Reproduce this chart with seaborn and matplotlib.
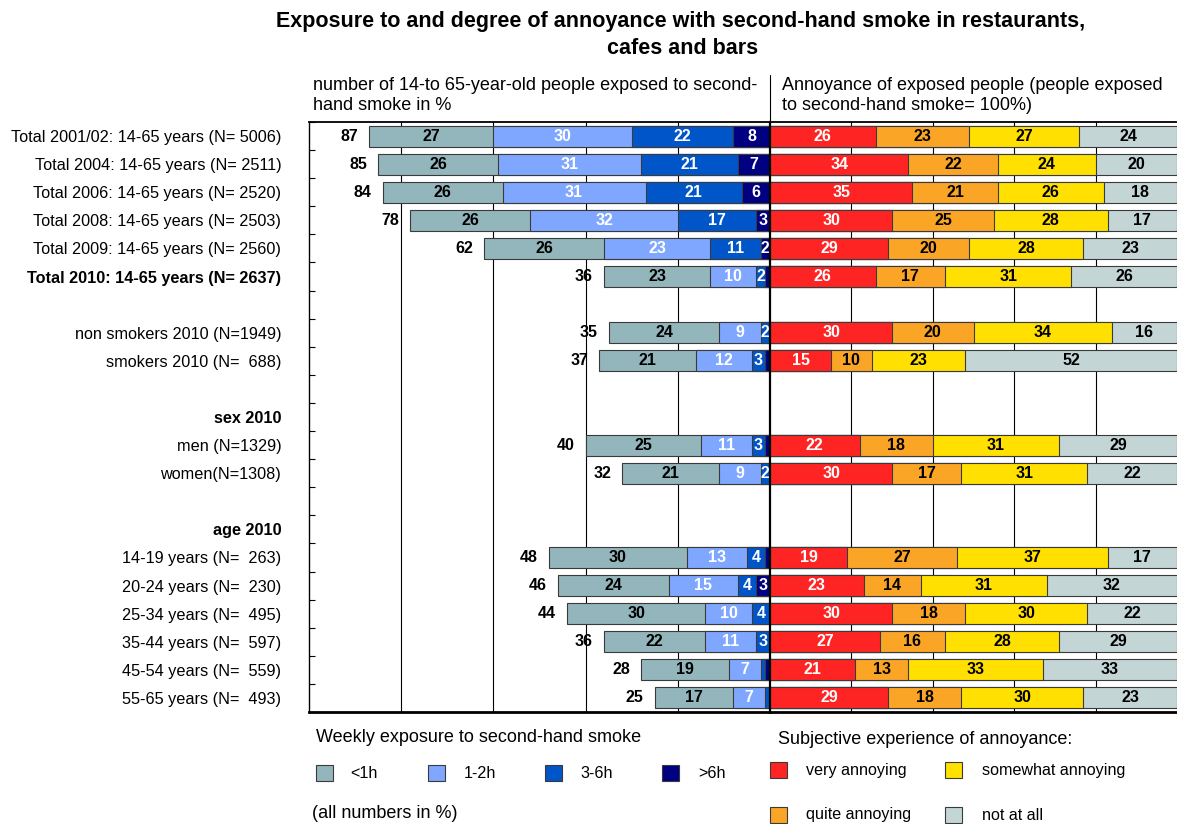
import numpy as np
import pandas as pd
import matplotlib.pyplot as plt
import seaborn as sns
from matplotlib.lines import Line2D
from matplotlib.patches import Rectangle

# row labels (groups with data)
groups = ["Total 2001/02: 14-65 years (N= 5006)",
          "Total 2004: 14-65 years (N= 2511)",
          "Total 2006: 14-65 years (N= 2520)",
          "Total 2008: 14-65 years (N= 2503)",
          "Total 2009: 14-65 years (N= 2560)",
          "Total 2010: 14-65 years (N= 2637)",
          "non smokers 2010 (N=1949)",
          "smokers 2010 (N=  688)",
          "men (N=1329)",
          "women(N=1308)",
          "14-19 years (N=  263)",
          "20-24 years (N=  230)",
          "25-34 years (N=  495)",
          "35-44 years (N=  597)",
          "45-54 years (N=  559)",
          "55-65 years (N=  493)"]

# exposure (% of 14-65 year olds), split by weekly hours
exposed = [87, 85, 84, 78, 62, 36, 35, 37, 40, 32, 48, 46, 44, 36, 28, 25]
under_1h = [27, 26, 26, 26, 26, 23, 24, 21, 25, 21, 30, 24, 30, 22, 19, 17]
h1_2 = [30, 31, 31, 32, 23, 10, 9, 12, 11, 9, 13, 15, 10, 11, 7, 7]
h3_6 = [22, 21, 21, 17, 11, 2, 2, 3, 3, 2, 4, 4, 4, 3, 1, 1]
over_6h = [8, 7, 6, 3, 2, 1, 0, 1, 1, 0, 1, 3, 0, 0, 1, 0]

# annoyance of exposed people (= 100%)
very = [26, 34, 35, 30, 29, 26, 30, 15, 22, 30, 19, 23, 30, 27, 21, 29]
quite = [23, 22, 21, 25, 20, 17, 20, 10, 18, 17, 27, 14, 18, 16, 13, 18]
somewhat = [27, 24, 26, 28, 28, 31, 34, 23, 31, 31, 37, 31, 30, 28, 33, 30]
not_at_all = [24, 20, 18, 17, 23, 26, 16, 52, 29, 22, 17, 32, 22, 29, 33, 23]

order = groups[:6] + [" "] + groups[6:8] + ["  ", "sex 2010"] + groups[8:10] + ["   ", "age 2010"] + groups[10:]
bold_rows = ["Total 2010: 14-65 years (N= 2637)", "sex 2010", "age 2010"]

exp_names = ["<1h", "1-2h", "3-6h", ">6h"]
exp_colors = ["#93B5BC", "#7FA7FF", "#0055C8", "#000080"]
exp_text = ["black", "white", "white", "white"]
ann_names = ["very annoying", "quite annoying", "somewhat annoying", "not at all"]
ann_colors = ["#FF2424", "#FAA526", "#FFE000", "#C3D5D5"]
ann_text = ["white", "black", "black", "black"]

df = pd.DataFrame({"group": groups, "u1": under_1h, "h12": h1_2, "h36": h3_6, "o6": over_6h,
                   "very": very, "quite": quite, "some": somewhat, "notat": not_at_all})
# cumulative from the centre line outwards (left side)
df["c_o6"] = df["o6"]
df["c_h36"] = df["c_o6"] + df["h36"]
df["c_h12"] = df["c_h36"] + df["h12"]
df["c_u1"] = df["c_h12"] + df["u1"]
# cumulative from the centre line (right side)
df["c_very"] = df["very"]
df["c_quite"] = df["c_very"] + df["quite"]
df["c_some"] = df["c_quite"] + df["some"]
df["c_not"] = df["c_some"] + df["notat"]

sns.set_theme(style="white")
plt.rcParams["font.family"] = ["Liberation Sans", "DejaVu Sans"]
plt.rcParams["text.color"] = "black"
plt.rcParams["ytick.color"] = "black"
plt.rcParams["ytick.labelcolor"] = "black"

W, H = 1177, 824
fig = plt.figure(figsize=(W / 100, H / 100), dpi=100)

def fx(px):
    return px / W

def fy(py):
    return 1 - py / H

top, bot, xl, xc, xr = 122, 712, 309, 770, 1177
ax_l = fig.add_axes([fx(xl), fy(bot), fx(xc - xl), fy(top) - fy(bot)])
ax_r = fig.add_axes([fx(xc), fy(bot), fx(xr - xc), fy(top) - fy(bot)])

bar_kw = dict(y="group", order=order, orient="h", width=0.75, saturation=1,
              errorbar=None, edgecolor="#3a3a3a", linewidth=0.8)

# left: exposure, outermost first so inner segments overlay it
for col, c in zip(["c_u1", "c_h12", "c_h36", "c_o6"], exp_colors):
    sns.barplot(data=df, x=col, color=c, ax=ax_l, **bar_kw)
for col, c in zip(["c_not", "c_some", "c_quite", "c_very"], ann_colors[::-1]):
    sns.barplot(data=df, x=col, color=c, ax=ax_r, **bar_kw)

for ax in (ax_l, ax_r):
    ax.set_ylim(20.5, -0.5)
    ax.set_xlabel("")
    ax.set_ylabel("")
    ax.set_xticks([])
    for g in [20, 40, 60, 80]:
        ax.axvline(g, color="black", lw=0.8, zorder=0.5)
    ax.spines["top"].set_linewidth(1.3)
    ax.spines["bottom"].set_linewidth(2)
    for s in ax.spines.values():
        s.set_color("black")

ax_l.set_xlim(100, 0)
ax_r.set_xlim(0, 100)
ax_l.spines["right"].set_visible(False)
ax_l.spines["left"].set_linewidth(1)
ax_r.spines["right"].set_visible(False)
ax_r.spines["left"].set_linewidth(1.6)

ax_l.set_yticks(range(len(order)))
ax_l.set_yticklabels(order, fontsize=11.7)
for lab in ax_l.get_yticklabels():
    if lab.get_text() in bold_rows:
        lab.set_fontweight("bold")
ax_l.set_yticks(np.arange(-0.5, len(order), 1), minor=True)
ax_l.tick_params(axis="y", which="major", length=0, pad=20)
ax_l.tick_params(axis="y", which="minor", left=True, direction="in", length=4, width=0.8, color="black")
ax_r.set_yticks([])

# value labels
for i, g in enumerate(groups):
    yi = order.index(g)
    vals = [under_1h[i], h1_2[i], h3_6[i], over_6h[i]]
    cum = [df["c_u1"][i], df["c_h12"][i], df["c_h36"][i], df["c_o6"][i]]
    for v, c, tc in zip(vals, cum, exp_text):
        if v >= 2:
            ax_l.text(c - v / 2, yi, str(v), ha="center", va="center", color=tc,
                      fontsize=11.5, fontweight="bold")
    ax_l.text(exposed[i] + 2.4, yi, str(exposed[i]), ha="right", va="center",
              fontsize=11.5, fontweight="bold")
    vals = [very[i], quite[i], somewhat[i], not_at_all[i]]
    cum = [df["c_very"][i], df["c_quite"][i], df["c_some"][i], df["c_not"][i]]
    for v, c, tc in zip(vals, cum, ann_text):
        ax_r.text(c - v / 2, yi, str(v), ha="center", va="center", color=tc,
                  fontsize=11.5, fontweight="bold")

# centre divider in header area
fig.add_artist(Line2D([fx(xc), fx(xc)], [fy(top), fy(75)], color="black", lw=0.8))

# title and headers
fig.text(fx(681), fy(21), "Exposure to and degree of annoyance with second-hand smoke in restaurants,",
         ha="center", va="center", fontsize=15.5, fontweight="bold")
fig.text(fx(683), fy(49), "cafes and bars", ha="center", va="center", fontsize=15.5, fontweight="bold")
fig.text(fx(313), fy(85), "number of 14-to 65-year-old people exposed to second-",
         ha="left", va="center", fontsize=13)
fig.text(fx(313), fy(105), "hand smoke in %", ha="left", va="center", fontsize=13)
fig.text(fx(782), fy(85), "Annoyance of exposed people (people exposed",
         ha="left", va="center", fontsize=13)
fig.text(fx(782), fy(105), "to second-hand smoke= 100%)", ha="left", va="center", fontsize=13)

# legends
fig.text(fx(316), fy(738), "Weekly exposure to second-hand smoke", ha="left", va="center", fontsize=13)
fig.text(fx(312), fy(814), "(all numbers in %)", ha="left", va="center", fontsize=13)
fig.text(fx(778), fy(740), "Subjective experience of annoyance:", ha="left", va="center", fontsize=13)

def legend_box(px, py, color, label, tx):
    fig.add_artist(Rectangle((fx(px), fy(py + 8)), fx(17), fy(0) - fy(16),
                             facecolor=color, edgecolor="#3a3a3a", lw=0.8))
    fig.text(fx(tx), fy(py), label, ha="left", va="center", fontsize=11.6)

for px, tx, c, n in zip([316, 428, 545, 662], [350, 464, 580, 698], exp_colors, exp_names):
    legend_box(px, 773, c, n, tx)
legend_box(770, 770, ann_colors[0], ann_names[0], 806)
legend_box(945, 770, ann_colors[2], ann_names[2], 982)
legend_box(770, 815, ann_colors[1], ann_names[1], 806)
legend_box(945, 815, ann_colors[3], ann_names[3], 982)

fig.savefig("out.png", dpi=100)
